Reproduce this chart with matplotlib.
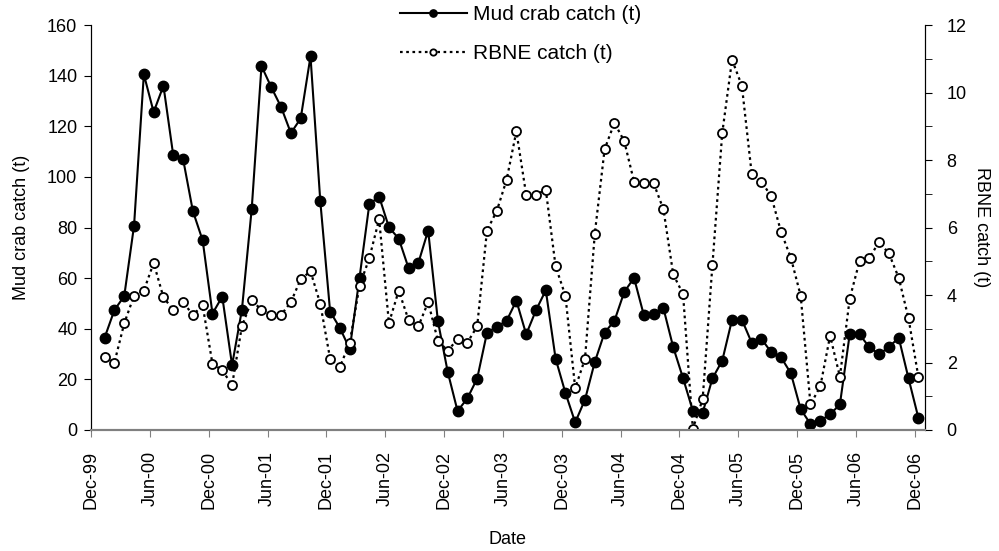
import matplotlib
matplotlib.use("Agg")
import matplotlib.pyplot as plt
from matplotlib.ticker import MultipleLocator
import numpy as np

plt.rcParams['font.family'] = ['Liberation Sans', 'DejaVu Sans']

# monthly catches, Jan-00 .. Dec-06
mud_crab = [36.5, 47.4, 52.9, 80.7, 140.5, 125.6, 136.0, 108.5, 107.1, 86.5, 74.9, 46.0,
            52.7, 25.6, 47.4, 87.2, 143.8, 135.4, 127.6, 117.3, 123.1, 147.6, 90.3, 46.8,
            40.3, 32.0, 60.2, 89.2, 92.2, 80.1, 75.6, 64.0, 66.0, 78.8, 42.9, 22.9,
            7.5, 12.5, 20.3, 38.4, 40.8, 43.1, 51.1, 37.8, 47.3, 55.2, 28.2, 14.7,
            3.0, 12.0, 26.9, 38.5, 43.1, 54.5, 60.1, 45.4, 46.0, 48.1, 32.7, 20.5,
            7.6, 6.8, 20.4, 27.4, 43.6, 43.6, 34.5, 36.0, 30.7, 28.7, 22.4, 8.2,
            2.4, 3.7, 6.2, 10.1, 37.8, 37.8, 32.7, 30.0, 32.7, 36.5, 20.4, 4.9]
rbne = [2.15, 2.00, 3.16, 3.98, 4.13, 4.95, 3.93, 3.56, 3.79, 3.41, 3.69, 1.96,
        1.77, 1.33, 3.07, 3.84, 3.56, 3.41, 3.41, 3.79, 4.47, 4.70, 3.74, 2.11,
        1.87, 2.59, 4.27, 5.09, 6.25, 3.17, 4.13, 3.26, 3.07, 3.79, 2.64, 2.35,
        2.69, 2.59, 3.07, 5.91, 6.49, 7.41, 8.85, 6.97, 6.97, 7.12, 4.85, 3.98,
        1.24, 2.11, 5.82, 8.32, 9.10, 8.56, 7.36, 7.31, 7.31, 6.54, 4.61, 4.03,
        0.04, 0.91, 4.90, 8.80, 10.97, 10.20, 7.60, 7.36, 6.92, 5.87, 5.10, 3.98,
        0.76, 1.29, 2.79, 1.58, 3.89, 5.00, 5.10, 5.57, 5.23, 4.51, 3.31, 1.58]
tick_labels = ['Dec-99', 'Jun-00', 'Dec-00', 'Jun-01', 'Dec-01', 'Jun-02', 'Dec-02', 'Jun-03',
               'Dec-03', 'Jun-04', 'Dec-04', 'Jun-05', 'Dec-05', 'Jun-06', 'Dec-06']

months = np.arange(1, len(mud_crab) + 1) + 0.37

fig = plt.figure(figsize=(9.99, 5.51), dpi=100)
ax = fig.add_axes([91.2 / 999, 121 / 551, 833.3 / 999, 405 / 551])
ax2 = ax.twinx()

l1, = ax.plot(months, mud_crab, color='black', linewidth=1.5, marker='o', markersize=7.5,
              markerfacecolor='black', markeredgecolor='black', label='Mud crab catch (t)', zorder=3)
l2, = ax2.plot(months, rbne, color='black', linewidth=1.6, linestyle=(0, (1.2, 1.6)), marker='o',
               markersize=6.5, markerfacecolor='white', markeredgecolor='black', markeredgewidth=1.3,
               label='RBNE catch (t)')

ax.set_xlim(0, 85)
ax.set_ylim(0, 160)
ax2.set_ylim(0, 12)
ax.set_yticks(np.arange(0, 161, 20))
ax2.set_yticks(np.arange(0, 13, 2))
ax2.yaxis.set_minor_locator(MultipleLocator(1))
ax.set_xticks(np.arange(0, 85, 6))
ax.set_xticklabels(tick_labels, rotation=90, fontsize=13)
ax.tick_params(axis='y', labelsize=13, direction='out', length=5, pad=5)
ax2.tick_params(axis='y', which='both', labelsize=13, direction='out', length=5, pad=11)
ax.tick_params(axis='x', direction='out', length=5, color='#808080', pad=10)

for a in (ax, ax2):
    a.spines['top'].set_visible(False)
    a.spines['bottom'].set_color('#808080')
    a.spines['bottom'].set_linewidth(1.5)

ax.set_xlabel('Date', fontsize=13, labelpad=16)
ax.set_ylabel('Mud crab catch (t)', fontsize=13, labelpad=12)
ax2.set_ylabel('RBNE catch (t)', fontsize=13, rotation=270, labelpad=17)

fig.legend(handles=[l1, l2], loc='upper left', bbox_to_anchor=(400 / 999, 1 - 5 / 551), frameon=False,
           fontsize=15, handlelength=3.2, labelspacing=0.95, markerscale=0.7, handletextpad=0.3,
           borderpad=0, borderaxespad=0)

fig.savefig('out.png', dpi=100)
